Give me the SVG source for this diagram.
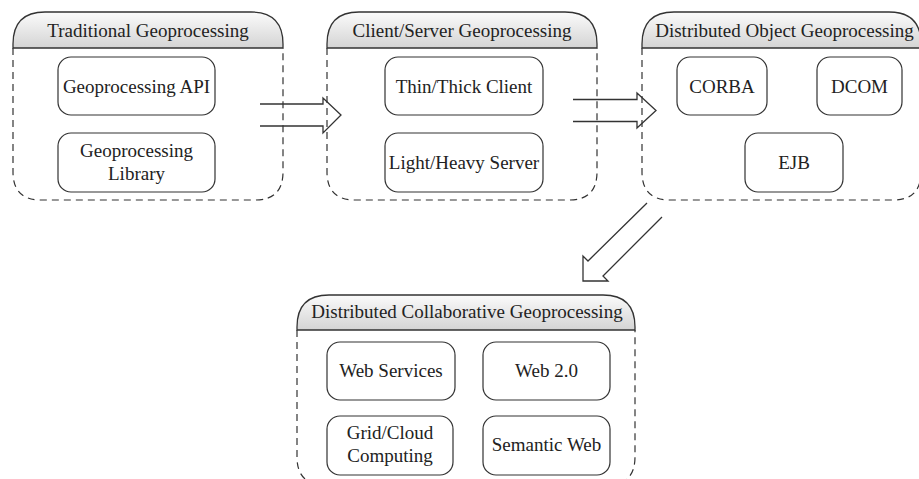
<svg xmlns="http://www.w3.org/2000/svg" width="919" height="479" viewBox="0 0 919 479">
<defs>
<linearGradient id="hg" x1="0" y1="0" x2="0" y2="1">
<stop offset="0" stop-color="#fbfbfb"/>
<stop offset="1" stop-color="#d4d4d4"/>
</linearGradient>
</defs>
<style>
.hdr{fill:url(#hg);stroke:#333;stroke-width:1.3}
.body{fill:none;stroke:#333;stroke-width:1.2;stroke-dasharray:7 5}
.box{fill:#fff;stroke:#333;stroke-width:1.2}
.t{font-family:"Liberation Serif","Times New Roman",serif;font-size:19px;fill:#222;text-anchor:middle}
.arr{fill:none;stroke:#333;stroke-width:1.3;stroke-linejoin:miter}
</style>
<rect width="919" height="479" fill="#fff"/>

<g id="traditional">
<path class="body" d="M13,48 V172 Q13,200 41,200 H255 Q283,200 283,172 V48"/>
<path class="hdr" d="M13,48 V44 Q13,12 45,12 H251 Q283,12 283,44 V48 Z"/>
<text class="t" x="148" y="37">Traditional Geoprocessing</text>
<g id="geo-api"><rect class="box" x="58" y="57" width="157" height="58" rx="13"/><text class="t" x="136.5" y="93">Geoprocessing API</text></g>
<g id="geo-lib"><rect class="box" x="58" y="133" width="157" height="59" rx="13"/><text class="t" x="136.5" y="157">Geoprocessing</text><text class="t" x="136.5" y="180">Library</text></g>
</g>

<g id="clientserver">
<path class="body" d="M327,48 V172 Q327,200 355,200 H569 Q597,200 597,172 V48"/>
<path class="hdr" d="M327,48 V44 Q327,12 359,12 H565 Q597,12 597,44 V48 Z"/>
<text class="t" x="462" y="37">Client/Server Geoprocessing</text>
<g id="thin-thick"><rect class="box" x="385" y="57" width="158" height="58" rx="13"/><text class="t" x="464" y="93">Thin/Thick Client</text></g>
<g id="light-heavy"><rect class="box" x="385" y="133" width="158" height="59" rx="13"/><text class="t" x="464" y="169">Light/Heavy Server</text></g>
</g>

<g id="distobject">
<path class="body" d="M642,48 V172 Q642,200 670,200 H893 Q921,200 921,172 V48"/>
<path class="hdr" d="M642,48 V44 Q642,12 674,12 H889 Q921,12 921,44 V48 Z"/>
<text class="t" x="784.5" y="37">Distributed Object Geoprocessing</text>
<g id="corba"><rect class="box" x="677" y="57" width="90" height="58" rx="13"/><text class="t" x="722" y="93">CORBA</text></g>
<g id="dcom"><rect class="box" x="817" y="57" width="85" height="58" rx="13"/><text class="t" x="859.5" y="93">DCOM</text></g>
<g id="ejb"><rect class="box" x="745" y="133" width="98" height="59" rx="13"/><text class="t" x="794" y="169">EJB</text></g>
</g>

<g id="distcollab">
<path class="body" d="M297,330 V457 Q297,485 325,485 H607 Q635,485 635,457 V330"/>
<path class="hdr" d="M297,330 V327 Q297,295 329,295 H603 Q635,295 635,327 V330 Z"/>
<text class="t" x="467" y="318">Distributed Collaborative Geoprocessing</text>
<g id="webservices"><rect class="box" x="327" y="342" width="128" height="58" rx="13"/><text class="t" x="391" y="377">Web Services</text></g>
<g id="web20"><rect class="box" x="483" y="342" width="127" height="58" rx="13"/><text class="t" x="546.5" y="377">Web 2.0</text></g>
<g id="gridcloud"><rect class="box" x="327" y="416" width="126" height="59" rx="13"/><text class="t" x="390" y="439">Grid/Cloud</text><text class="t" x="390" y="462">Computing</text></g>
<g id="semweb"><rect class="box" x="483" y="416" width="127" height="59" rx="13"/><text class="t" x="546.5" y="451">Semantic Web</text></g>
</g>

<g id="connectors">
<path class="arr" d="M260,104 H323 V98 L341,115 L323,133 V126 H260"/>
<path class="arr" d="M573,99.5 H637 V93 L656,110.5 L637,128 V121.5 H573"/>
<path class="arr" d="M647,203 L588,261 L583,256 V281 H608 L603,276 L662,217"/>
</g>
</svg>
